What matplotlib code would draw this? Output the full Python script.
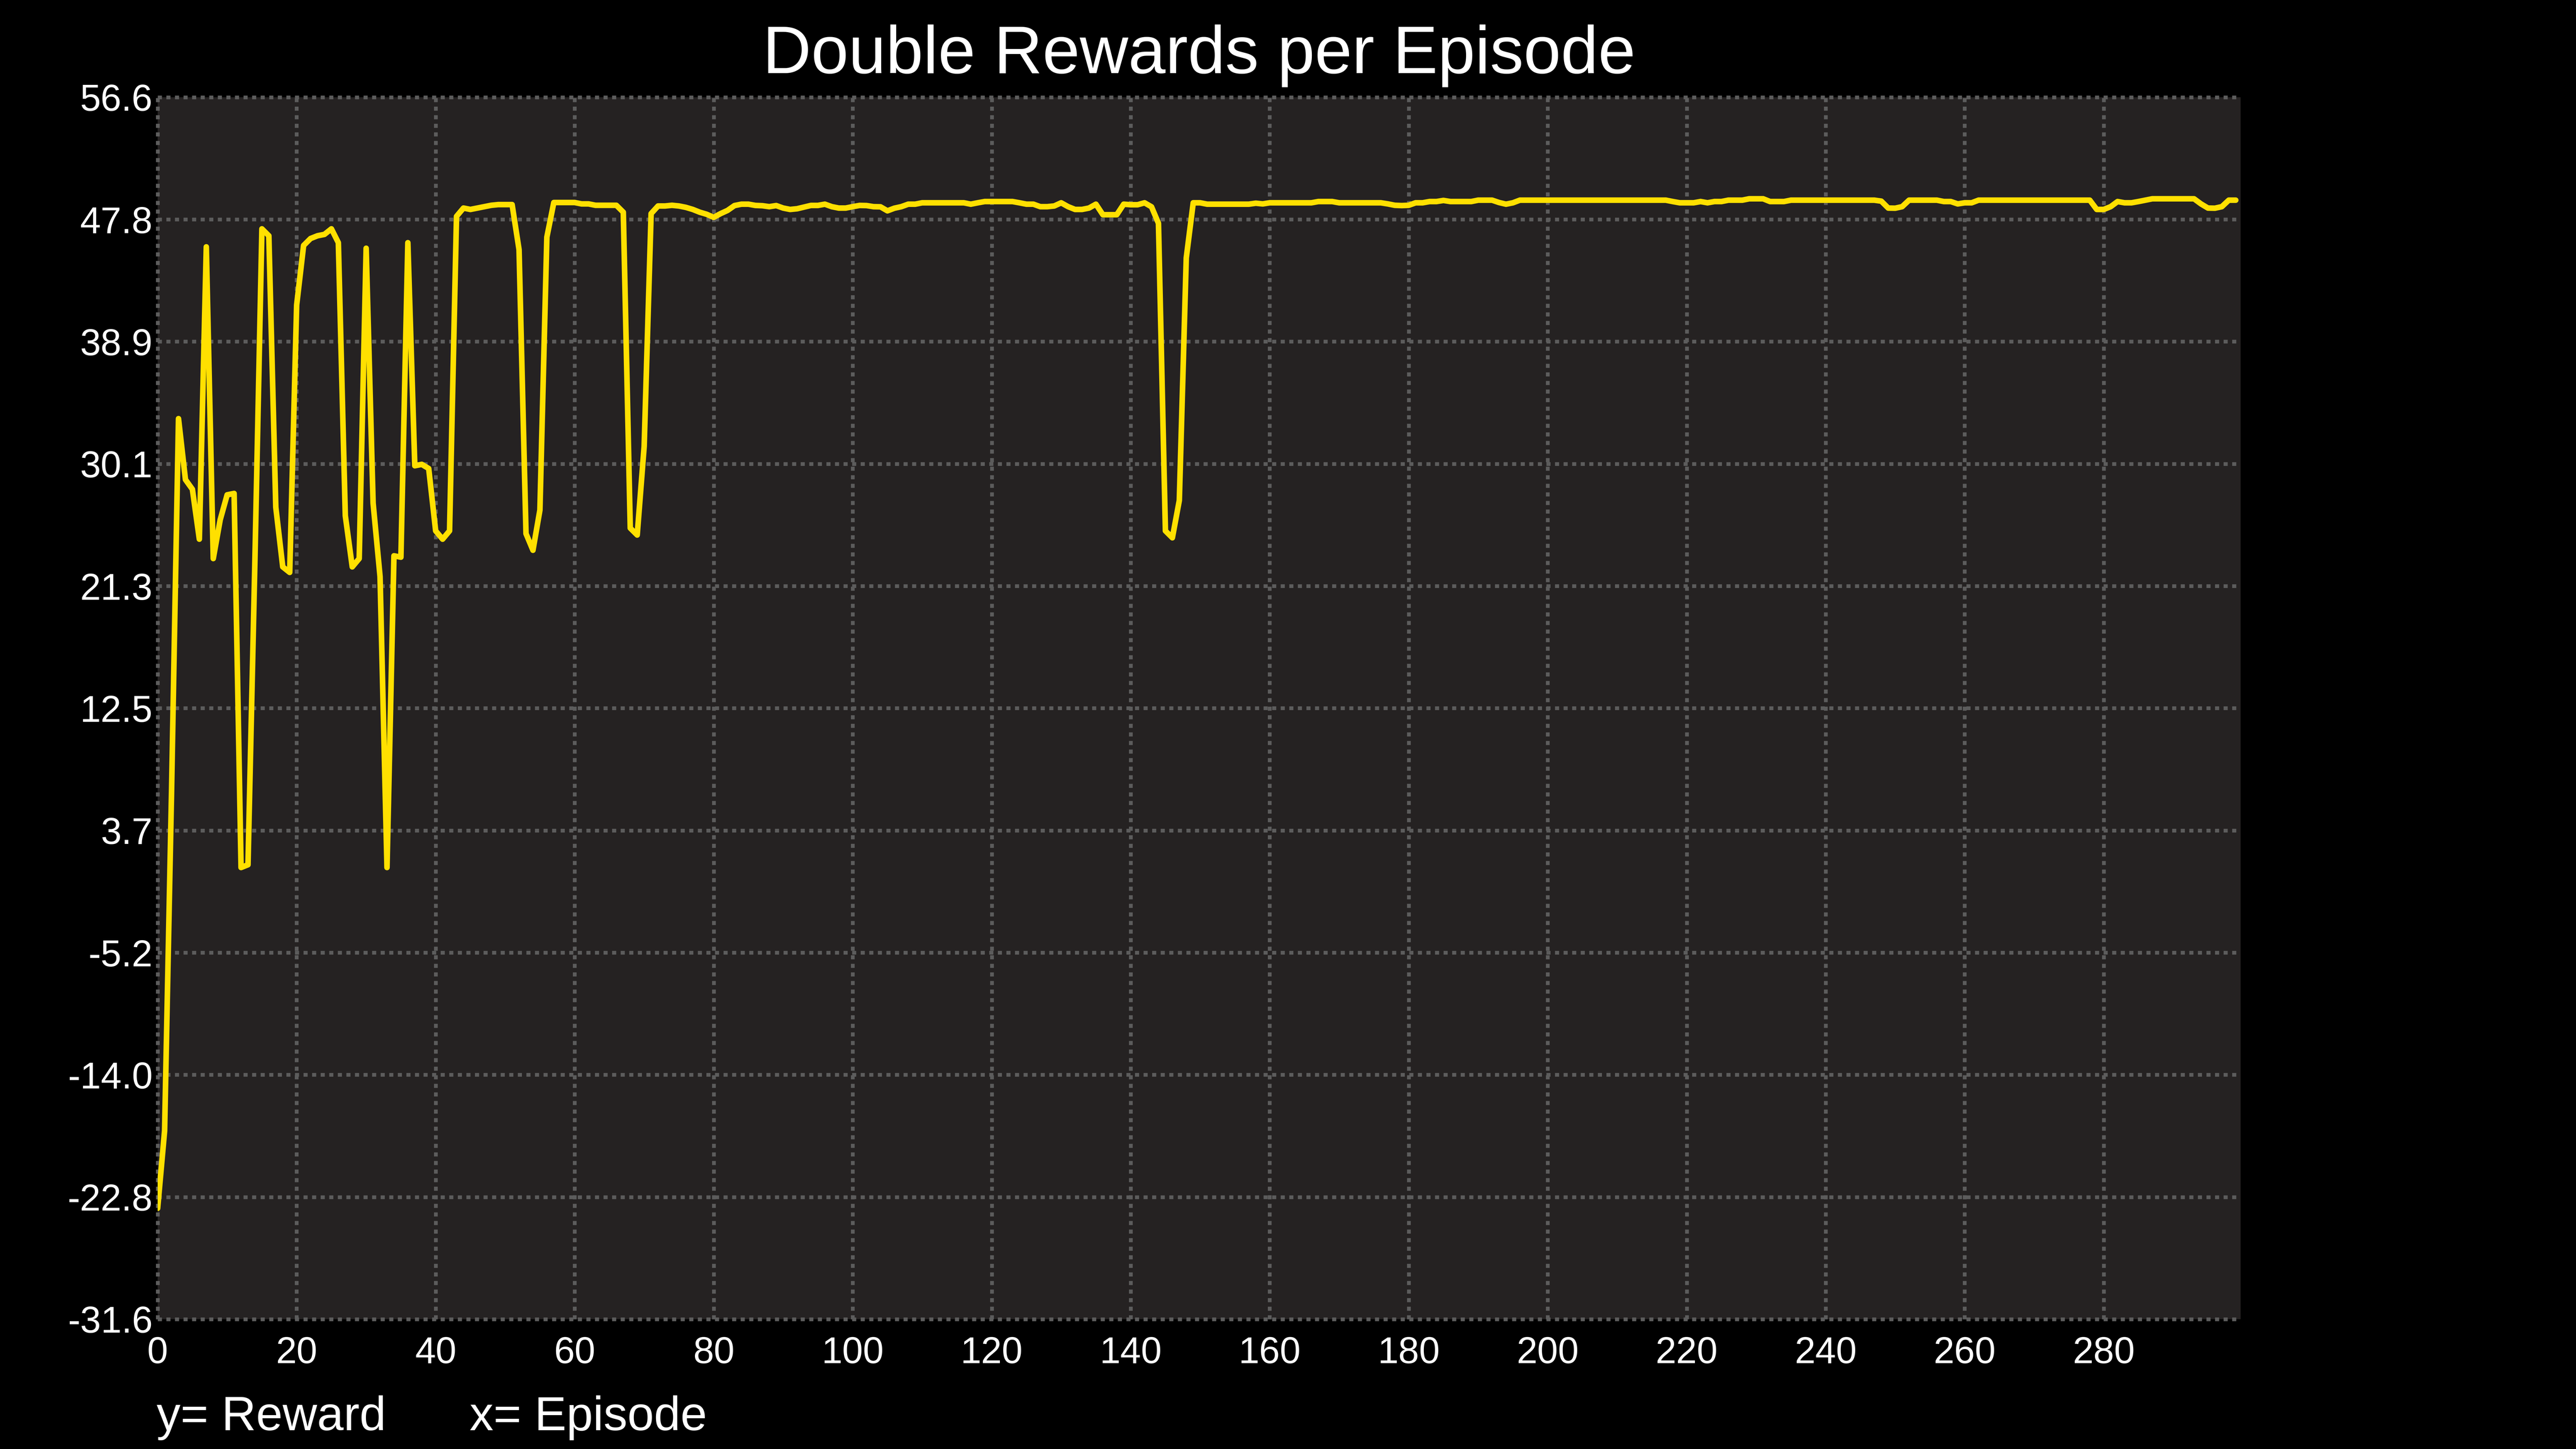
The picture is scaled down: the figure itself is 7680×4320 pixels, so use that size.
import matplotlib
matplotlib.use("Agg")
import matplotlib.pyplot as plt
import numpy as np

plt.rcParams['font.family'] = ['Liberation Sans', 'DejaVu Sans']

# ---- data ----
title = "Double Rewards per Episode"
y_caption = "y= Reward"
x_caption = "x= Episode"

rewards = [
    -23.6, -18.0, 6.5, 33.4, 29.0, 28.3, 24.7, 45.8, 23.3, 26.1,
    27.9, 28.0, 1.0, 1.2, 23.3, 47.1, 46.6, 27.0, 22.7, 22.3,
    41.6, 45.9, 46.4, 46.6, 46.7, 47.1, 46.1, 26.4, 22.7, 23.3,
    45.7, 27.3, 22.0, 1.0, 23.5, 23.4, 46.1, 30.0, 30.1, 29.8,
    25.3, 24.7, 25.3, 48.0, 48.6, 48.5, 48.6, 48.7, 48.8, 48.85,
    48.85, 48.85, 45.6, 25.1, 23.9, 26.8, 46.5, 49.0, 49.0, 49.0,
    49.0, 48.9, 48.9, 48.8, 48.8, 48.8, 48.8, 48.3, 25.5, 25.0,
    31.4, 48.2, 48.75, 48.75, 48.8, 48.75, 48.65, 48.5, 48.3, 48.15,
    47.93, 48.2, 48.43, 48.78, 48.88, 48.88, 48.79, 48.77, 48.7, 48.78,
    48.6, 48.5, 48.55, 48.67, 48.79, 48.79, 48.88, 48.7, 48.6, 48.6,
    48.7, 48.79, 48.78, 48.7, 48.69, 48.4, 48.59, 48.7, 48.88, 48.88,
    48.98, 48.98, 48.98, 48.98, 48.98, 48.98, 48.98, 48.88, 48.98, 49.07,
    49.07, 49.07, 49.07, 49.07, 48.98, 48.88, 48.88, 48.7, 48.7, 48.75,
    48.98, 48.7, 48.5, 48.5, 48.6, 48.88, 48.12, 48.12, 48.12, 48.88,
    48.84, 48.84, 48.98, 48.69, 47.5, 25.3, 24.8, 27.5, 45.0, 48.98,
    48.98, 48.88, 48.88, 48.88, 48.88, 48.88, 48.88, 48.88, 48.95, 48.9,
    48.98, 48.98, 48.98, 48.98, 48.98, 48.98, 48.98, 49.07, 49.07, 49.07,
    48.98, 48.98, 48.98, 48.98, 48.98, 48.98, 48.98, 48.9, 48.8, 48.78,
    48.8, 48.98, 48.98, 49.07, 49.07, 49.15, 49.07, 49.07, 49.07, 49.07,
    49.17, 49.17, 49.17, 49.0, 48.88, 48.98, 49.17, 49.17, 49.17, 49.17,
    49.17, 49.17, 49.17, 49.17, 49.17, 49.17, 49.17, 49.17, 49.17, 49.17,
    49.17, 49.17, 49.17, 49.17, 49.17, 49.17, 49.17, 49.17, 49.07, 48.98,
    48.98, 48.98, 49.07, 48.98, 49.07, 49.07, 49.17, 49.17, 49.17, 49.27,
    49.27, 49.27, 49.07, 49.07, 49.07, 49.17, 49.17, 49.17, 49.17, 49.17,
    49.17, 49.17, 49.17, 49.17, 49.17, 49.17, 49.17, 49.17, 49.1, 48.6,
    48.59, 48.7, 49.17, 49.17, 49.17, 49.17, 49.17, 49.07, 49.07, 48.9,
    48.98, 48.98, 49.17, 49.17, 49.17, 49.17, 49.17, 49.17, 49.17, 49.17,
    49.17, 49.17, 49.17, 49.17, 49.17, 49.17, 49.17, 49.17, 49.17, 48.5,
    48.5, 48.7, 49.07, 48.98, 48.98, 49.07, 49.17, 49.27, 49.27, 49.27,
    49.27, 49.27, 49.27, 49.27, 48.9, 48.6, 48.59, 48.7, 49.17, 49.17,
]
episodes = list(range(len(rewards)))

x_ticks = [0, 20, 40, 60, 80, 100, 120, 140, 160, 180, 200, 220, 240, 260, 280]
y_tick_labels = ["-31.6", "-22.8", "-14.0", "-5.2", "3.7", "12.5",
                 "21.3", "30.1", "38.9", "47.8", "56.6"]
y_min, y_max = -31.6, 56.6
x_max = 299.7

# ---- styling ----
FIG_BG = "#000000"
AX_BG = "#252222"
GRID = "#5c5c5c"
LINE = "#FFE000"

fig = plt.figure(figsize=(19.2, 10.8), dpi=400, facecolor=FIG_BG)
ax = fig.add_axes([0.0612, 0.0896, 0.8086, 0.8433])
ax.set_facecolor(AX_BG)

ax.plot(episodes, rewards, color=LINE, linewidth=3.0,
        solid_joinstyle='round', solid_capstyle='round', zorder=3)

ax.set_xlim(0, x_max)
ax.set_ylim(y_min, y_max)
ax.set_xticks(x_ticks)
ax.set_xticklabels([str(t) for t in x_ticks])
ax.set_yticks(np.linspace(y_min, y_max, len(y_tick_labels)))
ax.set_yticklabels(y_tick_labels)

for s in ax.spines.values():
    s.set_visible(False)

ax.tick_params(axis='both', length=0, labelcolor='white', labelsize=20)
ax.tick_params(axis='y', pad=2.7)
ax.tick_params(axis='x', pad=9)

ax.set_axisbelow(True)
ax.grid(True, color=GRID, linewidth=2.0, linestyle=(0, (1.1, 1.2)))
for gl in ax.get_xgridlines() + ax.get_ygridlines():
    gl.set_clip_on(False)

ax.set_title(title, color='white', fontsize=36, pad=13.0)

fig.text(467 / 7680, 1 - 4264 / 4320, y_caption, color='white',
         fontsize=25.6, ha='left', va='baseline')
fig.text(1400 / 7680, 1 - 4264 / 4320, x_caption, color='white',
         fontsize=25.6, ha='left', va='baseline')

fig.savefig("out.png", dpi=400, facecolor=FIG_BG)
